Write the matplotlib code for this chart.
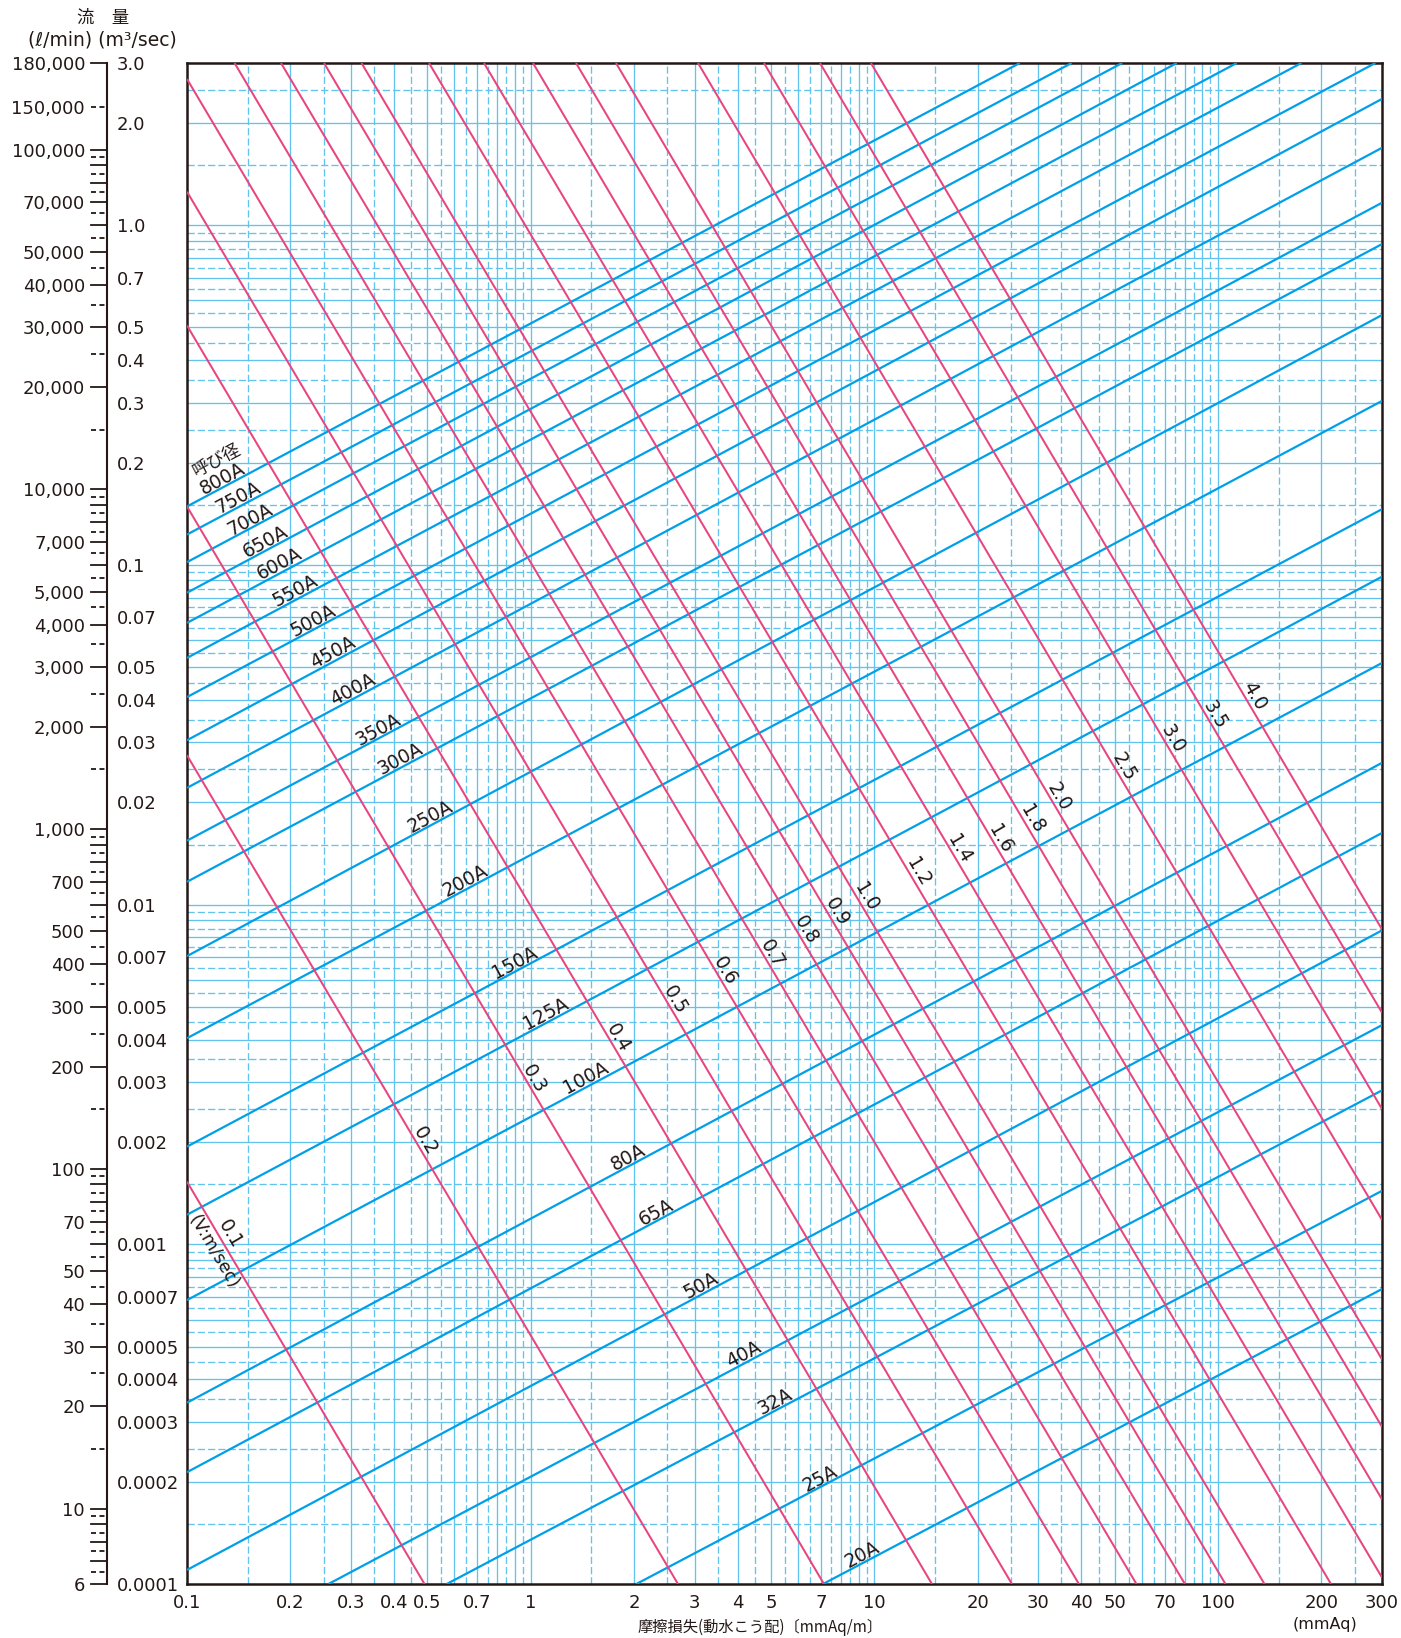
import numpy as np
import matplotlib
matplotlib.use('Agg')
import matplotlib.pyplot as plt
from matplotlib.transforms import blended_transform_factory, offset_copy
from matplotlib.lines import Line2D
from matplotlib.ticker import NullLocator

plt.rcParams['font.family'] = ['DejaVu Sans', 'Noto Sans CJK JP']
plt.rcParams['lines.scale_dashes'] = False

# ---------------- data ----------------
# pipe-size lines (blue): two end points each (x: mmAq/m, q: l/min)
pipe_sizes = ['20A', '25A', '32A', '40A', '50A', '65A', '80A', '100A', '125A', '150A',
              '200A', '250A', '300A', '350A', '400A', '450A', '500A', '550A', '600A',
              '650A', '700A', '750A', '800A']
pipe_x1 = [7.09, 2.03, 0.570, 0.258, 0.1, 0.1, 0.1, 0.1, 0.1, 0.1,
           0.1, 0.1, 0.1, 0.1, 0.1, 0.1, 0.1, 0.1, 0.1,
           0.1, 0.1, 0.1, 0.1]
pipe_q1 = [6, 6, 6, 6, 6.6, 12.8, 20.5, 41.1, 73.3, 116.3,
           242.5, 423, 700, 925, 1323, 1827, 2448, 3192, 4048,
           4965, 6109, 7367, 8911]
pipe_x2 = [300, 300, 300, 300, 300, 300, 300, 300, 300, 300,
           300, 300, 300, 300, 300, 300, 287, 174.8, 113.4,
           75.9, 52.6, 37.5, 26.5]
pipe_q2 = [44.3, 86.2, 170.3, 265, 503.6, 974.8, 1568, 3085, 5536, 8748,
           18222, 32613, 52753, 69812, 101321, 141111, 180000, 180000, 180000,
           180000, 180000, 180000, 180000]

# velocity lines (magenta), V in m/sec
vel_values = ['0.1', '0.2', '0.3', '0.4', '0.5', '0.6', '0.7', '0.8', '0.9', '1.0',
              '1.2', '1.4', '1.6', '1.8', '2.0', '2.5', '3.0', '3.5', '4.0']
vel_x1 = [0.1, 0.1, 0.1, 0.1, 0.1, 0.1, 0.1375, 0.1877, 0.2504, 0.3219,
          0.5060, 0.7313, 1.0155, 1.355, 1.771, 3.068, 4.773, 6.946, 9.774]
vel_q1 = [91.7, 1650, 8911, 30373, 75220, 161500, 180000, 180000, 180000, 180000,
          180000, 180000, 180000, 180000, 180000, 180000, 180000, 180000, 180000]
vel_x2 = [0.491, 2.683, 7.135, 14.71, 25.14, 39.38, 57.89, 80.1, 105.1, 136.5,
          213.1, 300, 300, 300, 300, 300, 300, 300, 300]
vel_q2 = [6, 6, 6, 6, 6, 6, 6, 6, 6, 6,
          6, 6.27, 10.65, 17.4, 27.5, 70.8, 150.1, 288.4, 507]

# axis tick labels
x_ticks = [0.1, 0.2, 0.3, 0.4, 0.5, 0.7, 1, 2, 3, 4, 5, 7, 10, 20, 30, 40, 50, 70, 100, 200, 300]
x_ticklabels = ['0.1', '0.2', '0.3', '0.4', '0.5', '0.7', '1', '2', '3', '4', '5', '7',
                '10', '20', '30', '40', '50', '70', '100', '200', '300']
# position of each l/min label on the flow scale (the "150,000" mark sits lower in the original)
lpm_ticks = [180000, 134000, 100000, 70000, 50000, 40000, 30000, 20000, 10000, 7000,
             5000, 4000, 3000, 2000, 1000, 700, 500, 400, 300, 200, 100, 70, 50, 40,
             30, 20, 10, 6]
lpm_labels = ['180,000', '150,000', '100,000', '70,000', '50,000', '40,000', '30,000',
              '20,000', '10,000', '7,000', '5,000', '4,000', '3,000', '2,000', '1,000',
              '700', '500', '400', '300', '200', '100', '70', '50', '40', '30', '20',
              '10', '6']
m3s_ticks = [3.0, 2.0, 1.0, 0.7, 0.5, 0.4, 0.3, 0.2, 0.1, 0.07, 0.05, 0.04, 0.03, 0.02,
             0.01, 0.007, 0.005, 0.004, 0.003, 0.002, 0.001, 0.0007, 0.0005, 0.0004,
             0.0003, 0.0002, 0.0001]
m3s_labels = ['3.0', '2.0', '1.0', '0.7', '0.5', '0.4', '0.3', '0.2', '0.1', '0.07',
              '0.05', '0.04', '0.03', '0.02', '0.01', '0.007', '0.005', '0.004',
              '0.003', '0.002', '0.001', '0.0007', '0.0005', '0.0004', '0.0003',
              '0.0002', '0.0001']

# label placement (x of label centre along each line)
pipe_label_x = [9.24, 6.94, 5.15, 4.17, 3.13, 2.32, 1.92, 1.45, 1.11, 0.90,
                0.645, 0.512, 0.4166, 0.3602, 0.3047, 0.2665, 0.2331, 0.2062, 0.1865,
                0.1687, 0.1525, 0.141, 0.1270]
vel_label_x = [0.1330, 0.4817, 1.003, 1.754, 2.575, 3.6, 4.93, 6.17, 7.6, 9.25,
               13.1, 17.3, 22.8, 28.1, 33.7, 51.9, 72.1, 96.0, 124.4]

# ---------------- styling ----------------
DARK = '#231815'
BLUE = '#009FE8'
MAG = '#E8457F'
GRID = '#62C3EE'
JP = ['Noto Sans CJK JP', 'DejaVu Sans']

W, H = 1401, 1638
fig = plt.figure(figsize=(W / 100, H / 100), dpi=100)
L, R, T, B = 187, 1382, 63, 1584
ax = fig.add_axes([L / W, 1 - B / H, (R - L) / W, (B - T) / H])
ax.set_xscale('log')
ax.set_yscale('log')
ax.set_xlim(0.1, 300)
ax.set_ylim(6, 180000)

# grid
dash = (0, (5.2, 2.2))
for dec in [0.1, 1, 10, 100]:
    for d in range(1, 10):
        v = d * dec
        if 0.1 < v < 300:
            ax.axvline(v, color=GRID, lw=0.95, zorder=1)
        v = (d + 0.5) * dec
        if 0.1 < v < 300:
            ax.axvline(v, color=GRID, lw=0.95, ls=dash, zorder=1)
for dec in [0.0001, 0.001, 0.01, 0.1, 1]:
    for d in range(1, 10):
        v = d * dec * 60000
        if 6 < v < 180000:
            ax.axhline(v, color=GRID, lw=0.95, zorder=1)
        v = (d + 0.5) * dec * 60000
        if 6 < v < 180000:
            ax.axhline(v, color=GRID, lw=0.95, ls=dash, zorder=1)

# data lines
for i in range(len(pipe_sizes)):
    ax.plot([pipe_x1[i], pipe_x2[i]], [pipe_q1[i], pipe_q2[i]], color=BLUE, lw=1.6,
            zorder=3, solid_capstyle='butt')
for i in range(len(vel_values)):
    ax.plot([vel_x1[i], vel_x2[i]], [vel_q1[i], vel_q2[i]], color=MAG, lw=1.45,
            zorder=4, solid_capstyle='butt')


def line_label(text, x1, q1, x2, q2, xc, d, along=0.0, fs=13.5, family=None):
    P1 = ax.transData.transform((x1, q1))
    P2 = ax.transData.transform((x2, q2))
    u = P2 - P1
    if u[0] < 0:
        u = -u
    u = u / np.hypot(u[0], u[1])
    ang = np.degrees(np.arctan2(u[1], u[0]))
    n = np.array([-u[1], u[0]])
    xcd = ax.transData.transform((xc, q1))[0]
    xa = xcd - d * n[0]
    t = (xa - P1[0]) / (P2[0] - P1[0])
    P = P1 + t * (P2 - P1)
    C = P + d * n + along * u
    cx, cy = ax.transData.inverted().transform(C)
    kw = {}
    if family is not None:
        kw['family'] = family
    ax.text(cx, cy, text, rotation=ang, rotation_mode='anchor', ha='center',
            va='center', fontsize=fs, color=DARK, zorder=6, **kw)


for i, s in enumerate(pipe_sizes):
    line_label(s, pipe_x1[i], pipe_q1[i], pipe_x2[i], pipe_q2[i], pipe_label_x[i], 8)
i800 = pipe_sizes.index('800A')
line_label('呼び径', pipe_x1[i800], pipe_q1[i800], pipe_x2[i800], pipe_q2[i800], 0.122, 27,
           fs=12.5, family=JP)

for i, s in enumerate(vel_values):
    if i == 0:
        line_label(s, vel_x1[i], vel_q1[i], vel_x2[i], vel_q2[i], vel_label_x[i], 10)
    else:
        line_label(s, vel_x1[i], vel_q1[i], vel_x2[i], vel_q2[i], vel_label_x[i], 8,
                   along=6.5)
line_label('(V:m/sec)', vel_x1[0], vel_q1[0], vel_x2[0], vel_q2[0], 0.1193, -13, fs=12.5)

# frame and x ticks
for sp in ax.spines.values():
    sp.set_color(DARK)
    sp.set_linewidth(1.8)
ax.set_xticks(x_ticks)
ax.set_xticklabels(x_ticklabels)
ax.xaxis.set_minor_locator(NullLocator())
ax.set_yticks([])
ax.yaxis.set_minor_locator(NullLocator())
ax.tick_params(axis='x', length=0, pad=7, labelsize=13, labelcolor=DARK)

# separate flow axis on the left
tr = blended_transform_factory(fig.transFigure, ax.transData)
trl = offset_copy(tr, fig=fig, y=-2, units='dots')
ax.add_line(Line2D([107 / W, 107 / W], [6, 180000], transform=tr, color=DARK, lw=1.5,
                   clip_on=False))
for dec in [1, 10, 100, 1000, 10000, 100000]:
    for d in range(1, 10):
        v = d * dec
        if 6 <= v <= 180000:
            ax.add_line(Line2D([91 / W, 107 / W], [v, v], transform=tr, color=DARK,
                               lw=1.3, clip_on=False))
        v = (d + 0.5) * dec
        if 6 <= v < 150000:
            ax.add_line(Line2D([91.5 / W, 105.5 / W], [v, v], transform=tr, color=DARK,
                               lw=1.3, ls=(0, (3.6, 2.5)), clip_on=False))
# dashed mark of the "150,000" label, where the original draws it
ax.add_line(Line2D([91.5 / W, 105.5 / W], [lpm_ticks[1], lpm_ticks[1]], transform=tr,
                   color=DARK, lw=1.3, ls=(0, (3.6, 2.5)), clip_on=False))
ax.add_line(Line2D([91 / W, 107 / W], [180000, 180000], transform=tr, color=DARK,
                   lw=1.3, clip_on=False))
for v, s in zip(lpm_ticks, lpm_labels):
    ax.text(85 / W, v, s, transform=trl, ha='right', va='center', fontsize=13,
            color=DARK)
for v, s in zip(m3s_ticks, m3s_labels):
    ax.text(117 / W, v * 60000, s, transform=trl, ha='left', va='center', fontsize=13,
            color=DARK)

fig.text(103 / W, 1 - 18 / H, '流\u3000量', ha='center', va='center', fontsize=12.5,
         color=DARK, family=JP)
fig.text(102 / W, 1 - 40 / H, '(ℓ/min) (m³/sec)', ha='center', va='center',
         fontsize=13.5, color=DARK)
fig.text(760 / W, 1 - 1627 / H, '摩擦損失(動水こう配)〔mmAq/m〕', ha='center',
         va='center', fontsize=11, color=DARK, family=JP)
fig.text(1325 / W, 1 - 1625 / H, '(mmAq)', ha='center', va='center', fontsize=11.5,
         color=DARK)

fig.savefig('out.png', dpi=100)
